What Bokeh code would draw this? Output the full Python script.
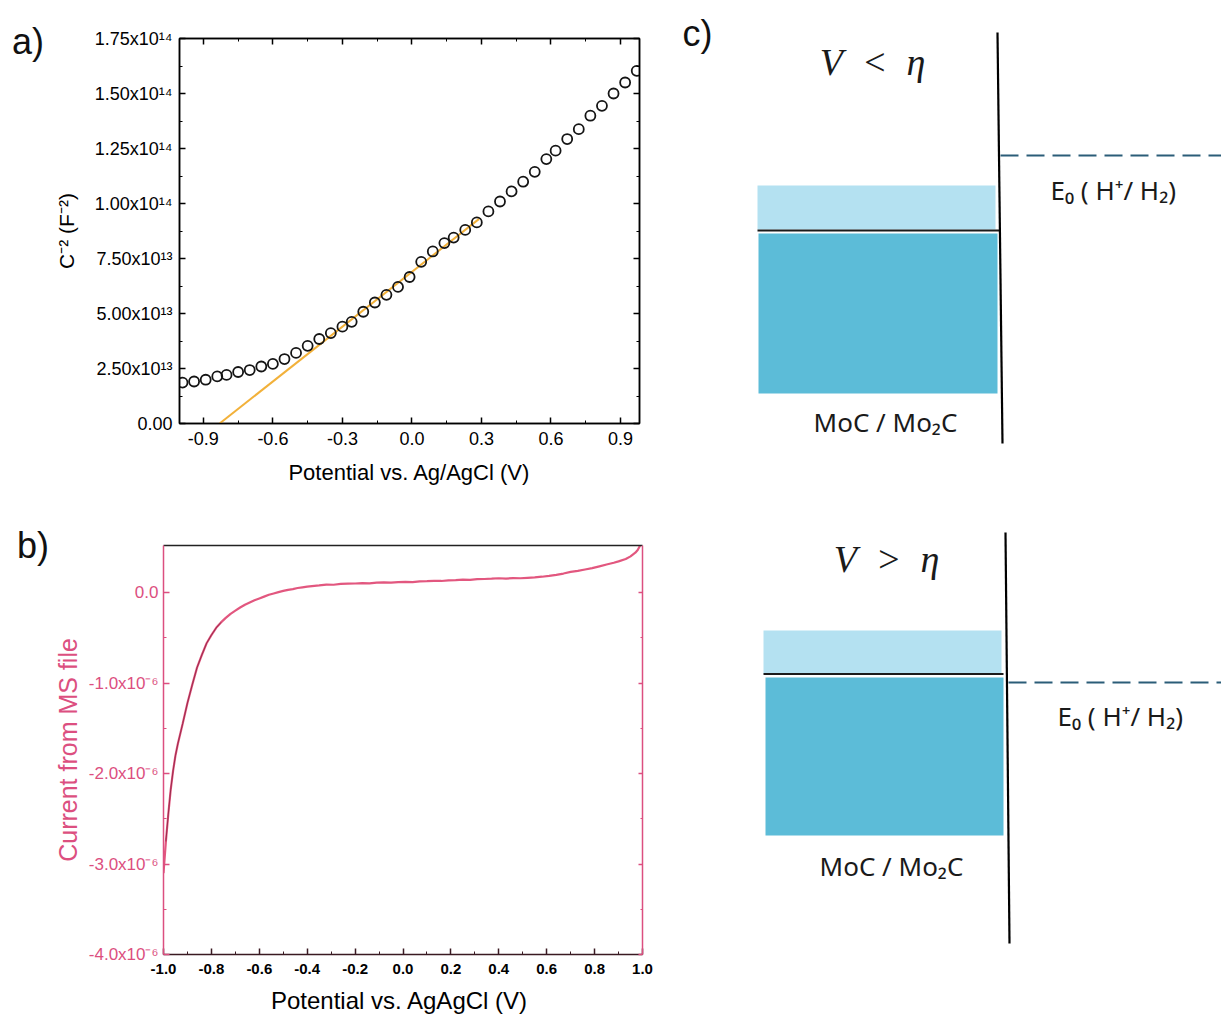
from bokeh.plotting import figure
from bokeh.models import Range1d, LinearAxis, FixedTicker, Div
from bokeh.layouts import row, column
from bokeh.embed import file_html
from bokeh.resources import INLINE
from bokeh.core.properties import value

# ---------------- Panel a : Mott-Schottky data ----------------
ms_potential = [-0.99, -0.94, -0.89, -0.84, -0.80, -0.75, -0.70, -0.65, -0.60, -0.55,
                -0.50, -0.45, -0.40, -0.35, -0.30, -0.26, -0.21, -0.16, -0.11, -0.06,
                -0.01, 0.04, 0.09, 0.14, 0.18, 0.23, 0.28, 0.33, 0.38, 0.43,
                0.48, 0.53, 0.58, 0.62, 0.67, 0.72, 0.77, 0.82, 0.87, 0.92, 0.97]
ms_c2 = [1.86e13, 1.91e13, 1.99e13, 2.14e13, 2.21e13, 2.34e13, 2.43e13, 2.59e13, 2.71e13, 2.93e13,
         3.21e13, 3.53e13, 3.84e13, 4.11e13, 4.40e13, 4.62e13, 5.08e13, 5.50e13, 5.85e13, 6.21e13,
         6.66e13, 7.35e13, 7.82e13, 8.20e13, 8.45e13, 8.80e13, 9.14e13, 9.64e13, 1.009e14, 1.055e14,
         1.099e14, 1.144e14, 1.202e14, 1.240e14, 1.293e14, 1.338e14, 1.399e14, 1.444e14, 1.500e14,
         1.550e14, 1.603e14]
fit_potential = [-0.83, 0.29]
fit_c2 = [0.0, 9.3e13]

a_xticks = [-0.9, -0.6, -0.3, 0.0, 0.3, 0.6, 0.9]
a_xlabels = ["-0.9", "-0.6", "-0.3", "0.0", "0.3", "0.6", "0.9"]
a_xminor = [-0.75, -0.45, -0.15, 0.15, 0.45, 0.75]
a_yticks = [0, 2.5e13, 5.0e13, 7.5e13, 1.0e14, 1.25e14, 1.5e14, 1.75e14]
a_ylabels = ["0.00", "2.50x10¹³", "5.00x10¹³", "7.50x10¹³", "1.00x10¹⁴", "1.25x10¹⁴",
             "1.50x10¹⁴", "1.75x10¹⁴"]
a_yminor = [1.25e13, 3.75e13, 6.25e13, 8.75e13, 1.125e14, 1.375e14, 1.625e14]

# ---------------- Panel b : current data ----------------
lsv_potential = [-1.00, -0.99, -0.98, -0.97, -0.96, -0.95, -0.94, -0.92, -0.90, -0.88,
                 -0.86, -0.84, -0.82, -0.80, -0.78, -0.76, -0.74, -0.72, -0.70, -0.68,
                 -0.66, -0.64, -0.62, -0.60, -0.58, -0.56, -0.54, -0.52, -0.50, -0.48,
                 -0.46, -0.44, -0.42, -0.40, -0.38, -0.35, -0.32, -0.29, -0.26, -0.23,
                 -0.20, -0.17, -0.14, -0.11, -0.08, -0.05, -0.02, 0.01, 0.04, 0.07,
                 0.10, 0.13, 0.16, 0.19, 0.22, 0.25, 0.28, 0.31, 0.34, 0.37,
                 0.40, 0.43, 0.46, 0.49, 0.52, 0.55, 0.58, 0.61, 0.64, 0.67,
                 0.70, 0.73, 0.76, 0.79, 0.82, 0.85, 0.88, 0.90, 0.93, 0.95,
                 0.97, 0.98, 0.99]
lsv_current = [-3.10e-6, -2.75e-6, -2.45e-6, -2.18e-6, -1.97e-6, -1.80e-6, -1.67e-6, -1.45e-6, -1.22e-6, -1.02e-6,
               -0.83e-6, -0.69e-6, -0.56e-6, -0.47e-6, -0.39e-6, -0.33e-6, -0.28e-6, -0.235e-6, -0.20e-6, -0.165e-6,
               -0.135e-6, -0.11e-6, -0.085e-6, -0.065e-6, -0.045e-6, -0.025e-6, -0.01e-6, 0.005e-6, 0.018e-6, 0.03e-6,
               0.038e-6, 0.05e-6, 0.058e-6, 0.066e-6, 0.072e-6, 0.079e-6, 0.088e-6, 0.086e-6, 0.095e-6, 0.098e-6,
               0.10e-6, 0.104e-6, 0.101e-6, 0.11e-6, 0.112e-6, 0.109e-6, 0.116e-6, 0.118e-6, 0.115e-6, 0.124e-6,
               0.126e-6, 0.13e-6, 0.128e-6, 0.135e-6, 0.138e-6, 0.142e-6, 0.14e-6, 0.148e-6, 0.15e-6, 0.153e-6,
               0.158e-6, 0.155e-6, 0.16e-6, 0.158e-6, 0.163e-6, 0.167e-6, 0.175e-6, 0.185e-6, 0.196e-6, 0.21e-6,
               0.228e-6, 0.24e-6, 0.255e-6, 0.27e-6, 0.29e-6, 0.31e-6, 0.33e-6, 0.345e-6, 0.37e-6, 0.40e-6,
               0.44e-6, 0.47e-6, 0.52e-6]

b_xticks = [-1.0, -0.8, -0.6, -0.4, -0.2, 0.0, 0.2, 0.4, 0.6, 0.8, 1.0]
b_xlabels = ["-1.0", "-0.8", "-0.6", "-0.4", "-0.2", "0.0", "0.2", "0.4", "0.6", "0.8", "1.0"]
b_xminor = [-0.9, -0.7, -0.5, -0.3, -0.1, 0.1, 0.3, 0.5, 0.7, 0.9]
b_yticks = [-4.0e-6, -3.0e-6, -2.0e-6, -1.0e-6, 0.0]
b_ylabels = ["-4.0x10⁻⁶", "-3.0x10⁻⁶", "-2.0x10⁻⁶", "-1.0x10⁻⁶", "0.0"]
b_yminor = [-3.5e-6, -2.5e-6, -1.5e-6, -0.5e-6]

# ---------------- Panel c : band diagrams (canvas pixel space) ----------------
light_left = [757, 763]
light_right = [995, 1001]
light_top = [185, 630]
light_bottom = [229, 673]
dark_left = [758, 765]
dark_right = [997, 1003]
dark_top = [233, 677]
dark_bottom = [393, 835]
edge_y = [230, 673.5]
edge_x0 = [757, 763]
edge_x1 = [1000, 1003]
wall_x0 = [997, 1005]
wall_x1 = [1002, 1009]
wall_top = [32, 532]
wall_bottom = [443, 943]
redox_y = [155, 682]
redox_x0 = [1000, 1008]
redox_x1 = [1221, 1221]
cond_text = ["V\u2002<\u2002η", "V\u2002>\u2002η"]
cond_x = [872, 886]
cond_y = [61, 558]
e0_text = ["E₀ ( H⁺/ H₂)", "E₀ ( H⁺/ H₂)"]
e0_x = [1050, 1057]
e0_y = [189, 715]
mat_text = ["MoC / Mo₂C", "MoC / Mo₂C"]
mat_x = [885, 891]
mat_y = [421, 865]

PINK = "#dc4f80"
SANS = "Liberation Sans"


def hidden_label_axis(ticks, minor, color, tin, min_in):
    return LinearAxis(ticker=FixedTicker(ticks=ticks, minor_ticks=minor),
                      major_label_overrides={t: "" for t in ticks},
                      major_label_text_color=None, major_label_text_font_size="10px",
                      major_label_standoff=0,
                      major_tick_in=tin, major_tick_out=0, minor_tick_in=min_in, minor_tick_out=0,
                      axis_line_color=color, major_tick_line_color=color,
                      minor_tick_line_color=color, axis_line_width=1.5, major_tick_line_width=1.5)


def panel_label(text, pad_top, pad_left, w, h):
    html = ('<div style="padding:%dpx 0 0 %dpx; margin:0; line-height:1.1; '
            'font-family:\'Liberation Sans\', Arial, sans-serif; font-size:36px; '
            'color:#111111; white-space:nowrap;">%s</div>') % (pad_top, pad_left, text)
    return Div(text=html, width=w, height=h, margin=(0, 0, 0, 0))


# ================= Figure a =================
fa = figure(width=610, height=500, x_range=Range1d(-1.003, 0.982), y_range=Range1d(0, 1.75e14),
            output_backend="svg", toolbar_location=None,
            min_border_left=129, min_border_right=21, min_border_top=38, min_border_bottom=77)
fa.grid.visible = False
fa.outline_line_color = "black"
fa.outline_line_width = 1.5

fa.line(fit_potential, fit_c2, line_color="#f2b13a", line_width=2)
fa.scatter(ms_potential, ms_c2, marker="circle", size=10, fill_color=None,
           line_color="#151515", line_width=1.8)

xa = fa.xaxis[0]
xa.ticker = FixedTicker(ticks=a_xticks, minor_ticks=a_xminor)
xa.major_label_overrides = {t: l for t, l in zip(a_xticks, a_xlabels)}
xa.axis_label = "Potential vs. Ag/AgCl (V)"
ya = fa.yaxis[0]
ya.ticker = FixedTicker(ticks=a_yticks, minor_ticks=a_yminor)
ya.major_label_overrides = {t: l for t, l in zip(a_yticks, a_ylabels)}
ya.axis_label = "C⁻² (F⁻²)"
for ax in (xa, ya):
    ax.major_tick_in = 6
    ax.major_tick_out = 0
    ax.minor_tick_in = 3
    ax.minor_tick_out = 0
    ax.axis_line_color = "black"
    ax.axis_line_width = 1.5
    ax.major_tick_line_width = 1.5
    ax.major_label_text_font = SANS
    ax.major_label_text_font_size = "18px"
    ax.major_label_text_color = "black"
    ax.axis_label_text_font = SANS
    ax.axis_label_text_font_style = "normal"
    ax.axis_label_text_color = "black"
xa.axis_label_text_font_size = "22px"
ya.axis_label_text_font_size = "21px"
xa.major_label_standoff = 8
ya.major_label_standoff = 7
xa.axis_label_standoff = 12
ya.axis_label_standoff = 14

fa.add_layout(hidden_label_axis(a_xticks, a_xminor, "black", 6, 3), "above")
fa.add_layout(hidden_label_axis(a_yticks, a_yminor, "black", 6, 3), "right")

# ================= Figure b =================
fb = figure(width=612, height=516, x_range=Range1d(-1.0, 1.0), y_range=Range1d(-4.0e-6, 0.52e-6),
            output_backend="svg", toolbar_location=None,
            min_border_left=115, min_border_right=18, min_border_top=45, min_border_bottom=61)
fb.grid.visible = False
fb.outline_line_color = None
fb.line(lsv_potential, lsv_current, line_color="#e2577f", line_width=2.2)
fb.line(lsv_potential[1:16], lsv_current[1:16], line_color="#6a0f2c", line_width=1, line_alpha=0.6)

xb = fb.xaxis[0]
xb.ticker = FixedTicker(ticks=b_xticks, minor_ticks=b_xminor)
xb.major_label_overrides = {t: l for t, l in zip(b_xticks, b_xlabels)}
xb.axis_label = "Potential vs. AgAgCl  (V)"
xb.axis_line_color = "#3a1a22"
xb.major_tick_line_color = "#3a1a22"
xb.minor_tick_line_color = "#3a1a22"
xb.major_label_text_color = "black"
xb.major_label_text_font_style = "bold"
xb.major_label_text_font_size = "15px"
xb.axis_label_text_color = "black"
xb.axis_label_text_font_size = "24px"
yb = fb.yaxis[0]
yb.ticker = FixedTicker(ticks=b_yticks, minor_ticks=b_yminor)
yb.major_label_overrides = {t: l for t, l in zip(b_yticks, b_ylabels)}
yb.axis_label = "Current from MS file"
yb.axis_line_color = PINK
yb.major_tick_line_color = PINK
yb.minor_tick_line_color = PINK
yb.major_label_text_color = PINK
yb.major_label_text_font_size = "17px"
yb.axis_label_text_color = PINK
yb.axis_label_text_font_size = "25px"
for ax in (xb, yb):
    ax.major_tick_in = 6
    ax.major_tick_out = 0
    ax.minor_tick_in = 3
    ax.minor_tick_out = 0
    ax.axis_line_width = 1.5
    ax.major_tick_line_width = 1.5
    ax.major_label_text_font = SANS
    ax.axis_label_text_font = SANS
    ax.axis_label_text_font_style = "normal"
xb.major_label_standoff = 9
yb.major_label_standoff = 5
xb.axis_label_standoff = 10
yb.axis_label_standoff = 4

fb.add_layout(hidden_label_axis([], [], "#222222", 0, 0), "above")
fb.add_layout(hidden_label_axis(b_yticks, b_yminor, PINK, 4, 2), "right")

# ================= Figure c =================
fc = figure(width=561, height=1016, x_range=Range1d(660, 1221), y_range=Range1d(1016, 0),
            output_backend="svg", toolbar_location=None, min_border=0)
fc.axis.visible = False
fc.grid.visible = False
fc.outline_line_color = None

fc.quad(left=light_left, right=light_right, top=light_top, bottom=light_bottom,
        fill_color="#b4e1f1", line_color=None)
fc.quad(left=dark_left, right=dark_right, top=dark_top, bottom=dark_bottom,
        fill_color="#5cbcd8", line_color=None)
fc.segment(x0=edge_x0, y0=edge_y, x1=edge_x1, y1=edge_y, line_color="#1b1b1b", line_width=2)
fc.segment(x0=wall_x0, y0=wall_top, x1=wall_x1, y1=wall_bottom, line_color="black", line_width=2.2)
fc.segment(x0=redox_x0, y0=redox_y, x1=redox_x1, y1=redox_y, line_color="#2b5d78",
           line_width=2, line_dash="18 8")

fc.text(x=cond_x, y=cond_y, text=cond_text, text_font=value("Liberation Serif"),
        text_font_style="italic", text_font_size=value("38px"), text_align="center",
        text_baseline="middle", text_color="#1a1a1a")
fc.text(x=e0_x, y=e0_y, text=e0_text, text_font=value("Noto Sans"),
        text_font_size=value("26px"), text_align="left", text_baseline="middle",
        text_color="#1a1a1a")
fc.text(x=mat_x, y=mat_y, text=mat_text, text_font=value("Noto Sans"),
        text_font_size=value("26px"), text_align="center", text_baseline="middle",
        text_color="#1a1a1a")
fc.text(x=[682], y=[12], text=["c)"], text_font=value(SANS), text_font_size=value("36px"),
        text_align="left", text_baseline="top", text_color="#111111")

la = panel_label("a)", 22, 12, 50, 500)
lb = panel_label("b)", 26, 17, 48, 516)

layout = row(column(row(la, fa), row(lb, fb)), fc)
open("out.html", "w").write(file_html(layout, INLINE))
